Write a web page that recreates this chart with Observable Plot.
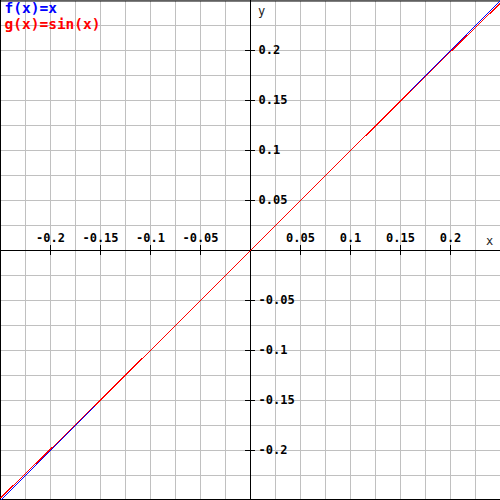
<!DOCTYPE html>
<html>
<head>
<meta charset="utf-8">
<script src="https://cdn.jsdelivr.net/npm/d3@7"></script>
<script src="https://cdn.jsdelivr.net/npm/@observablehq/plot@0.6"></script>
<style>
  html, body { margin: 0; padding: 0; background: #fff; }
  svg { display: block; }
  svg path { shape-rendering: crispEdges; }
</style>
</head>
<body>
<div id="chart"></div>
<script>
// Sample points
const xValues = [-0.25, -0.2, -0.15, -0.1, -0.05, 0, 0.05, 0.1, 0.15, 0.2, 0.25];
const fValues = [-0.25, -0.2, -0.15, -0.1, -0.05, 0, 0.05, 0.1, 0.15, 0.2, 0.25];
const gValues = [-0.2474, -0.1987, -0.1494, -0.0998, -0.05, 0, 0.05, 0.0998, 0.1494, 0.1987, 0.2474];

const gridValues = [-0.25, -0.225, -0.2, -0.175, -0.15, -0.125, -0.1, -0.075, -0.05, -0.025, 0,
  0.025, 0.05, 0.075, 0.1, 0.125, 0.15, 0.175, 0.2, 0.225, 0.25];
const tickValues = [-0.2, -0.15, -0.1, -0.05, 0.05, 0.1, 0.15, 0.2];
const tickLabels = ["-0.2", "-0.15", "-0.1", "-0.05", "0.05", "0.1", "0.15", "0.2"];
const legendLabels = ["f(x)=x", "g(x)=sin(x)"];
const legendColors = ["#0000ff", "#ff0000"];

const fData = xValues.map((x, i) => ({x, y: fValues[i]}));
const gData = xValues.map((x, i) => ({x, y: gValues[i]}));
const ticks = tickValues.map((v, i) => ({v, label: tickLabels[i]}));
const tickHalf = 0.005;
const mono = "'DejaVu Sans Mono', monospace";

const legendMark = (i, dy) => Plot.text([legendLabels[i]], {
  x: -0.25, y: 0.25, text: d => d, dx: 4, dy,
  fill: legendColors[i], textAnchor: "start", lineAnchor: "top",
  fontSize: 14.5, fontWeight: "bold", fontFamily: mono
});

const chart = Plot.plot({
  width: 500,
  height: 500,
  margin: 0,
  x: {domain: [-0.25, 0.25], axis: null},
  y: {domain: [-0.25, 0.25], axis: null},
  style: {background: "#fff", fontFamily: mono},
  marks: [
    Plot.ruleX(gridValues, {stroke: "#c0c0c0", strokeWidth: 1, strokeOpacity: 1}),
    Plot.ruleY(gridValues, {stroke: "#c0c0c0", strokeWidth: 1, strokeOpacity: 1}),
    // frame edges
    Plot.ruleX([-0.25], {stroke: "#000"}),
    Plot.ruleY([0.25], {stroke: "#000", dy: 0.5}),
    Plot.ruleY([-0.25], {stroke: "#000", dy: -1}),
    // axes
    Plot.ruleX([0], {stroke: "#000"}),
    Plot.ruleY([0], {stroke: "#000"}),
    // ticks
    Plot.ruleX(ticks, {x: "v", y1: -tickHalf, y2: tickHalf, stroke: "#000"}),
    Plot.ruleY(ticks, {y: "v", x1: -tickHalf, x2: tickHalf, stroke: "#000"}),
    // tick labels
    Plot.text(ticks, {x: "v", y: 0, text: "label", textAnchor: "middle", lineAnchor: "bottom", dy: -9,
      fontSize: 12, fontWeight: "bold", fill: "#000", fontFamily: mono}),
    Plot.text(ticks, {x: 0, y: "v", text: "label", textAnchor: "start", lineAnchor: "middle", dx: 8,
      fontSize: 12, fontWeight: "bold", fill: "#000", fontFamily: mono}),
    // axis names
    Plot.text(["x"], {x: 0.25, y: 0, text: d => d, textAnchor: "middle", lineAnchor: "bottom", dx: -11, dy: -6,
      fontSize: 12, fill: "#222", fontFamily: mono}),
    Plot.text(["y"], {x: 0, y: 0.25, text: d => d, textAnchor: "middle", lineAnchor: "top", dx: 11, dy: 6,
      fontSize: 12, fill: "#222", fontFamily: mono}),
    // function lines
    Plot.line(fData, {x: "x", y: "y", stroke: legendColors[0], strokeWidth: 1}),
    Plot.line(gData, {x: "x", y: "y", stroke: legendColors[1], strokeWidth: 1}),
    // legend
    legendMark(0, 2),
    legendMark(1, 18)
  ]
});
document.getElementById("chart").appendChild(chart);
</script>
</body>
</html>
